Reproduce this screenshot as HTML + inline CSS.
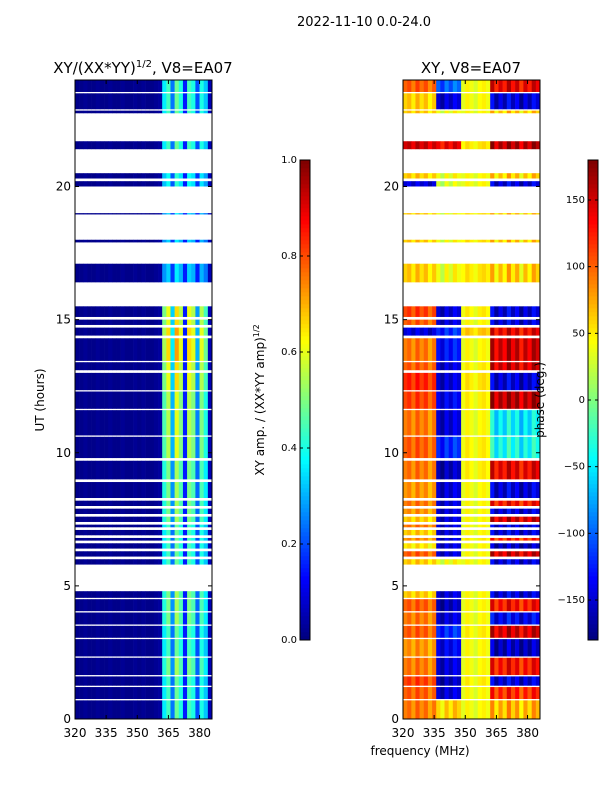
<!DOCTYPE html>
<html><head><meta charset="utf-8"><style>
body{margin:0;background:#fff;font-family:"Liberation Sans",sans-serif}
svg text{font-family:"DejaVu Sans","Liberation Sans",sans-serif;fill:#000}
</style></head><body>
<svg id="c" width="600" height="800"></svg>
<script>
// ---- data ----
const segStart=[0,0.75,1.25,1.65,2.35,3.05,3.55,4.05,4.55,5.8,6.1,6.4,6.7,6.9,7.2,7.4,7.7,8.0,8.3,9.0,9.8,10.65,11.65,12.35,13.1,13.45,14.4,14.8,15.1,16.4,17.9,18.95,20.0,20.3,21.4,22.75,22.9,23.55];
const segEnd=[0.7,1.2,1.6,2.3,3.0,3.5,4.0,4.5,4.8,6.0,6.3,6.6,6.8,7.1,7.3,7.6,7.9,8.2,8.9,9.7,10.6,11.6,12.3,13.0,13.4,14.3,14.7,15.0,15.5,17.1,18.0,19.0,20.2,20.5,21.7,22.85,23.5,24.0];
const segAmp=[0.8,0.8,0.8,0.9,0.8,0.8,0.9,0.9,0.9,0.8,0.8,0.8,0.8,0.8,0.8,0.9,0.9,0.9,0.9,0.9,1,1,1,1.1,1.1,1.2,1.2,1.1,1.1,0.6,0.6,0.6,0.7,0.7,0.8,0.8,0.8,0.8];
const phZ1=[90,100,110,90,80,100,90,100,60,60,100,50,80,60,90,60,80,90,80,90,100,90,110,120,100,90,-150,100,110,60,60,60,-150,60,150,60,60,100];
const phZ2=[60,-150,-160,-150,-140,-120,-150,-160,-150,40,-150,-150,-150,-150,-150,-150,-150,-150,-150,-160,-120,-150,-140,-150,-150,-130,-120,-150,-150,40,40,40,30,40,140,40,-150,-100];
const phZ3=[40,40,45,40,40,45,40,40,40,40,40,40,45,40,40,40,40,40,40,45,45,40,45,50,45,40,60,40,45,50,50,50,40,40,50,40,40,40];
const phZ4=[70,120,-150,130,-160,150,-140,130,-150,-150,150,-160,120,-150,-150,150,-150,130,-150,140,-40,-50,160,-150,150,150,140,-150,-150,60,60,60,-150,60,160,60,-150,140];
const freqBins=[320,322,324,326,328,330,332,334,336,338,340,342,344,346,348,350,352,354,356,358,360,362,364,366,368,370,372,374,376,378,380,382,384];
const ampCol=[0.01,0.01,0.02,0.01,0.01,0.02,0.01,0.01,0.02,0.01,0.01,0.02,0.01,0.01,0.02,0.01,0.02,0.01,0.01,0.02,0.03,0.45,0.55,0.3,0.6,0.5,0.15,0.55,0.5,0.25,0.5,0.4,0.05];
const phJit=[0,10,-10,15,-5,10,-15,5,0,-20,10,-10,15,0,-5,10,0,-10,5,10,0,20,-20,10,-15,25,-10,15,-25,10,-15,20,0];
const zoneEdge=[336,348,362];
const xTicks=[320,335,350,365,380];
const yTicks=[0,5,10,15,20];
const cb1Ticks=[0,0.2,0.4,0.6,0.8,1.0];
const cb2Ticks=[-150,-100,-50,0,50,100,150];
// ---- helpers ----
const NS="http://www.w3.org/2000/svg";
const svg=document.getElementById('c');
function mk(t,a,p){const e=document.createElementNS(NS,t);for(const k in a)e.setAttribute(k,a[k]);(p||svg).appendChild(e);return e;}
function jet(v){v=Math.max(0,Math.min(1,v));const f=x=>Math.round(255*Math.max(0,Math.min(1,x)));
return `rgb(${f(1.5-Math.abs(4*v-3))},${f(1.5-Math.abs(4*v-2))},${f(1.5-Math.abs(4*v-1))})`;}
const Y=h=>719-h*(639/24);
function panel(x0,name,title,fillFn){
  const X=f=>x0+(f-320)*(137/66);
  const g=mk('g',{});
  
  
  for(let s=0;s<segStart.length;s++){
    for(let b=0;b<freqBins.length;b++){
      const r=mk('rect',{x:X(freqBins[b]),y:Y(segEnd[s]),width:X(freqBins[b]+2)-X(freqBins[b])+0.3,height:Y(segStart[s])-Y(segEnd[s]),fill:fillFn(s,b)},g);
      
      
    }
  }
  const fr=mk('rect',{x:x0,y:80,width:137,height:639,fill:'none',stroke:'#000','stroke-width':1});
  
  xTicks.forEach(t=>{const x=X(t);mk('line',{x1:x,x2:x,y1:719,y2:715,stroke:'#000'});mk('line',{x1:x,x2:x,y1:80,y2:84,stroke:'#000'});
    const tx=mk('text',{x:x,y:737,'text-anchor':'middle',style:'font-size:12px'});tx.textContent=t;});
  yTicks.forEach(t=>{const y=Y(t);mk('line',{x1:x0,x2:x0+4,y1:y,y2:y,stroke:'#000'});mk('line',{x1:x0+137,x2:x0+133,y1:y,y2:y,stroke:'#000'});
    const tx=mk('text',{x:x0-4,y:y+4,'text-anchor':'end',style:'font-size:12px'});tx.textContent=t;});
  const tt=mk('text',{x:x0+68,y:73,'text-anchor':'middle',style:'font-size:15px'});tt.innerHTML=title;
  
}
panel(75,'amplitude-panel','XY/(XX*YY)<tspan style="font-size:10px" dy="-6">1/2</tspan><tspan dy="6">, V8=EA07</tspan>',(s,b)=>jet(ampCol[b]*(ampCol[b]>0.2?segAmp[s]:1)));
panel(403,'phase-panel','XY, V8=EA07',(s,b)=>{const f=freqBins[b];const z=f<zoneEdge[0]?phZ1:f<zoneEdge[1]?phZ2:f<zoneEdge[2]?phZ3:phZ4;
  return jet(((z[s]+phJit[b])+180)/360);});
function cbar(x,name,ticks,lo,hi,fmt){
  const g=mk('g',{});
  for(let i=0;i<120;i++){mk('rect',{x:x,y:640-(i+1)*4,width:10,height:4.3,fill:jet(i/119)},g);}
  mk('rect',{x:x,y:160,width:10,height:480,fill:'none',stroke:'#000'},g);
  ticks.forEach(t=>{const y=640-(t-lo)/(hi-lo)*480;mk('line',{x1:x,x2:x+3,y1:y,y2:y,stroke:'#000'},g);mk('line',{x1:x+10,x2:x+7,y1:y,y2:y,stroke:'#000'},g);
    const tx=mk('text',{x:x-3,y:y+3,'text-anchor':'end',style:'font-size:10px'},g);tx.textContent=fmt(t);
    });
}
cbar(300,'amplitude-colorbar',cb1Ticks,0,1,t=>t.toFixed(1));
cbar(588,'phase-colorbar',cb2Ticks,-180,180,t=>t<0?'\u2212'+(-t):''+t);
function lab(x,y,txt,rot,name,size){const t=mk('text',{x:x,y:y,'text-anchor':'middle',transform:rot?`rotate(-90 ${x} ${y})`:'',style:'font-size:'+(size||'12px')});t.innerHTML=txt;
  }
lab(364,26,'2022-11-10 0.0-24.0',0,'figure-title','13px');
lab(44,400,'UT (hours)',1,'y-axis-title');
lab(420,755,'frequency (MHz)',0,'x-axis-title');
lab(264,400,'XY amp. / (XX*YY amp)<tspan style="font-size:8px" dy="-5">1/2</tspan>',1,'amplitude-colorbar-label');
lab(544,400,'phase (deg.)',1,'phase-colorbar-label');
</script>
</body></html>
